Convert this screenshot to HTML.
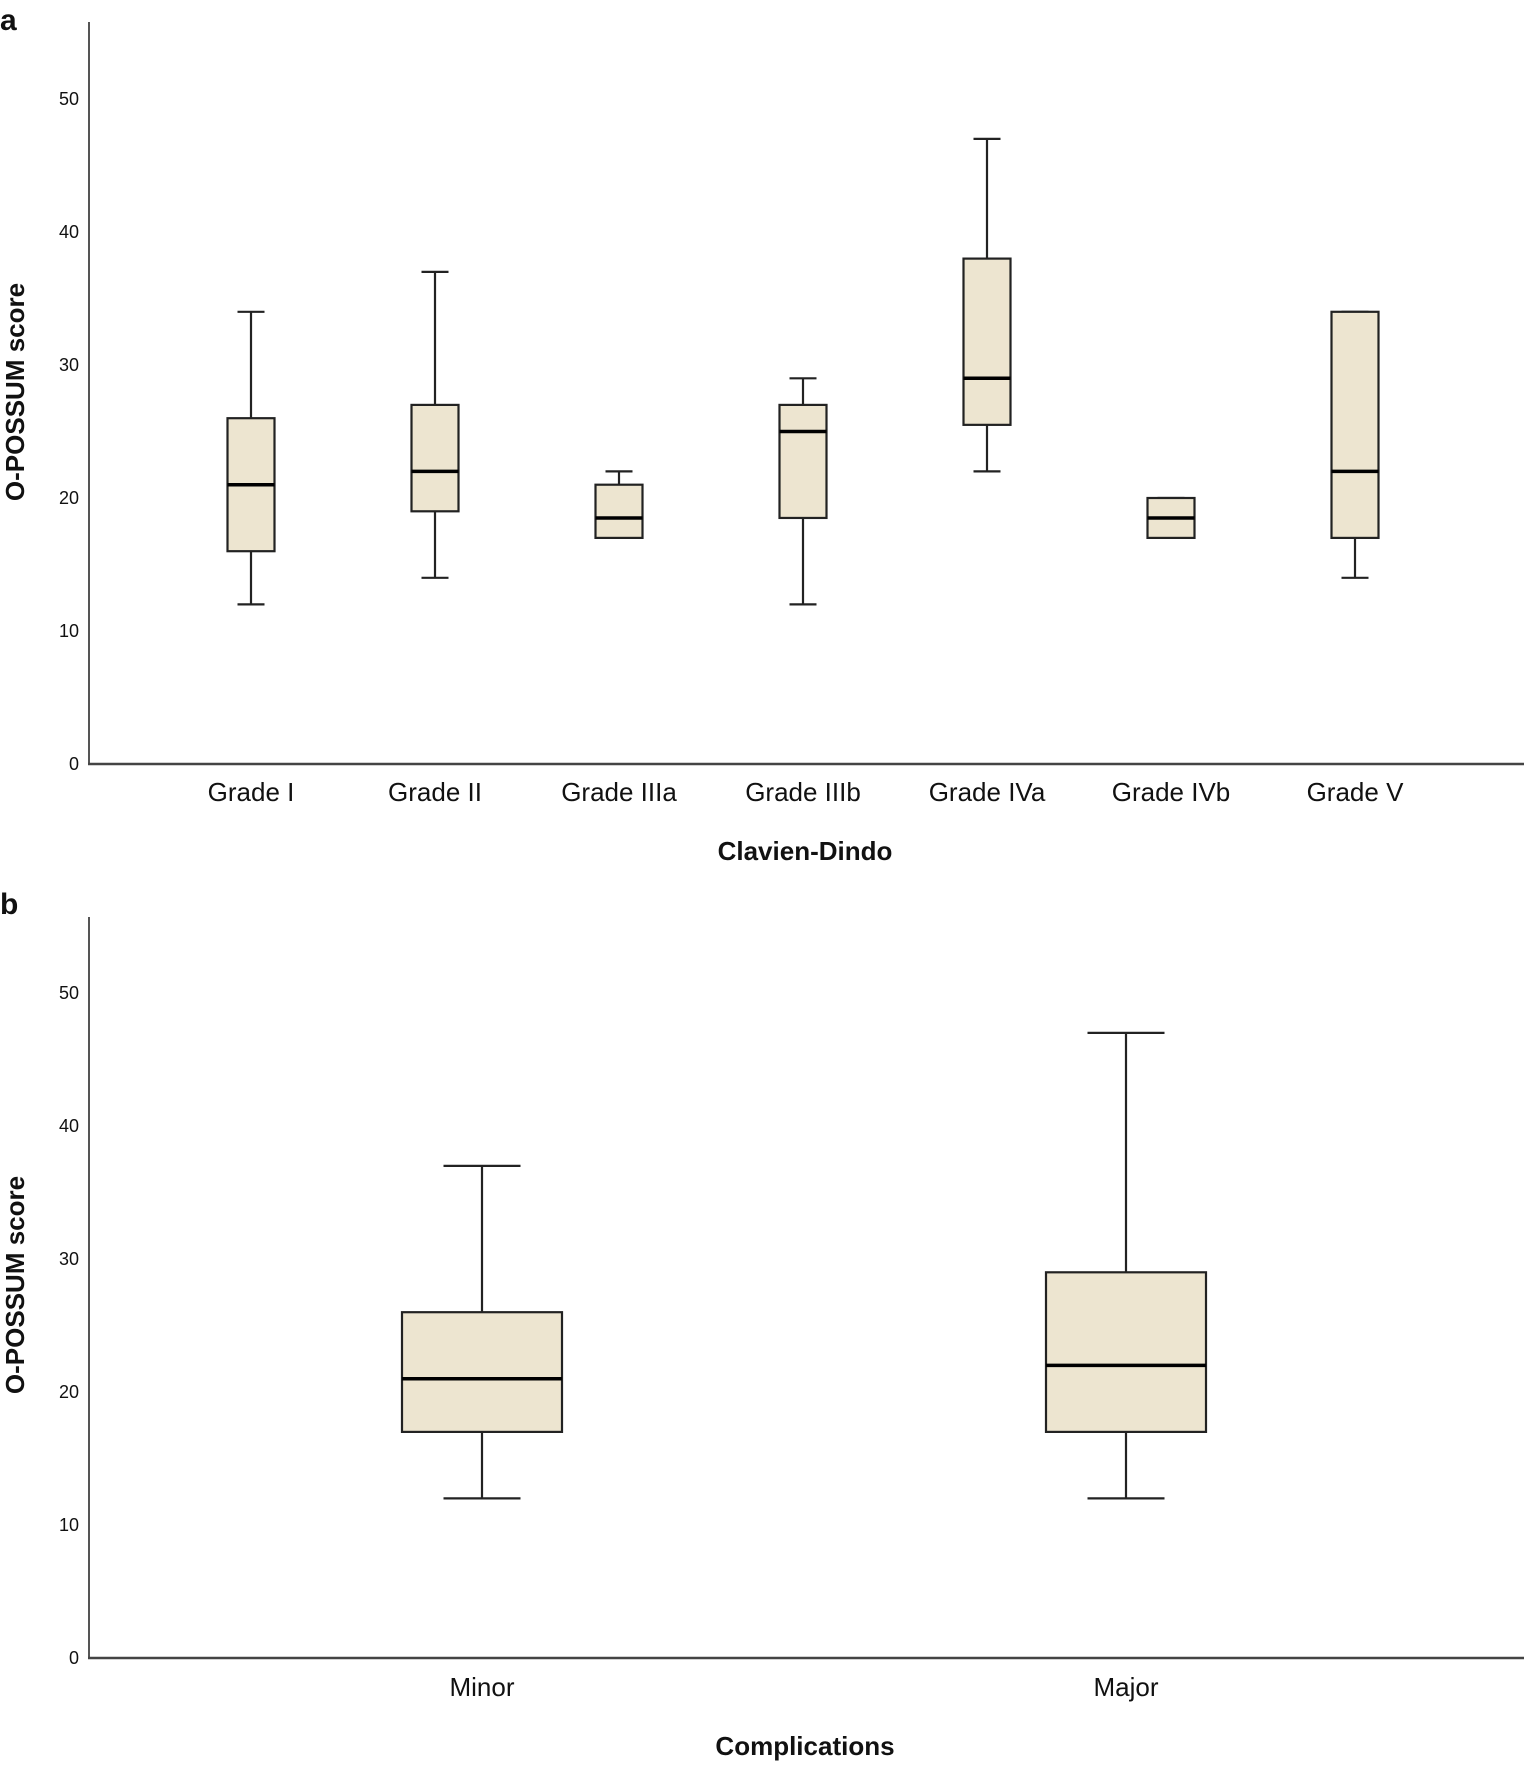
<!DOCTYPE html>
<html><head><meta charset="utf-8"><style>
html,body{margin:0;padding:0;background:#fff}
svg{display:block}
text{font-family:"Liberation Sans",Arial,sans-serif;fill:#111}
</style></head><body>
<svg id="chart" width="1524" height="1772" viewBox="0 0 1524 1772" xmlns="http://www.w3.org/2000/svg"></svg>
<script>
const catsA = ["Grade I","Grade II","Grade IIIa","Grade IIIb","Grade IVa","Grade IVb","Grade V"];
const minA = [12,14,17,12,22,17,14];
const q1A  = [16,19,17,18.5,25.5,17,17];
const medA = [21,22,18.5,25,29,18.5,22];
const q3A  = [26,27,21,27,38,20,34];
const maxA = [34,37,22,29,47,20,34];
const catsB = ["Minor","Major"];
const minB = [12,12];
const q1B  = [17,17];
const medB = [21,22];
const q3B  = [26,29];
const maxB = [37,47];
const yTicks = [0,10,20,30,40,50];

const svg = document.getElementById('chart');
const NS = 'http://www.w3.org/2000/svg';
function mk(tag, attrs, parent){ const e=document.createElementNS(NS,tag); for(const k in attrs) e.setAttribute(k,attrs[k]); (parent||svg).appendChild(e); return e; }

function panel(p){
  const g = mk('g',{});
  
  
  const y = v => p.y0 - (p.y0 - p.y50) * v / 50;
  const n = p.cats.length;
  const x = i => p.xFirst + i * p.step;
  // axes
  const ax = mk('line',{x1:89,y1:p.top,x2:89,y2:p.y0+1,stroke:'#555','stroke-width':2},g);
   
  const bx = mk('line',{x1:88,y1:p.y0,x2:1524,y2:p.y0,stroke:'#444','stroke-width':2.5},g);
   
  yTicks.forEach(t=>{
    const tx = mk('text',{x:79,y:y(t)+6,'text-anchor':'end','font-size':18},g);
    tx.textContent = t;
     
  });
  for(let i=0;i<n;i++){
    const cx = x(i), hw = p.bw/2, cw = p.cw/2;
    const bg = mk('g',{},g);
    
    
    mk('line',{x1:cx,y1:y(p.max[i]),x2:cx,y2:y(p.q3[i]),stroke:'#222','stroke-width':2.2},bg);
    mk('line',{x1:cx,y1:y(p.q1[i]),x2:cx,y2:y(p.min[i]),stroke:'#222','stroke-width':2.2},bg);
    mk('line',{x1:cx-cw,y1:y(p.max[i]),x2:cx+cw,y2:y(p.max[i]),stroke:'#222','stroke-width':2.2},bg);
    mk('line',{x1:cx-cw,y1:y(p.min[i]),x2:cx+cw,y2:y(p.min[i]),stroke:'#222','stroke-width':2.2},bg);
    mk('rect',{x:cx-hw,y:y(p.q3[i]),width:p.bw,height:y(p.q1[i])-y(p.q3[i]),fill:'#ede5d0',stroke:'#222','stroke-width':2.2},bg);
    mk('line',{x1:cx-hw,y1:y(p.med[i]),x2:cx+hw,y2:y(p.med[i]),stroke:'#000','stroke-width':3.5},bg);
    const lb = mk('text',{x:cx,y:p.labY,'text-anchor':'middle','font-size':26},g);
    lb.textContent = p.cats[i];
     
  }
  const tt = mk('text',{x:805,y:p.titleY,'text-anchor':'middle','font-size':26,'font-weight':'bold'},g);
  tt.textContent = p.xTitle;
   
  const yt = mk('text',{x:0,y:0,'text-anchor':'middle','font-size':26,'font-weight':'bold',transform:'translate(24,'+p.yTitleC+') rotate(-90)'},g);
  yt.textContent = 'O-POSSUM score';
   
  const pl = mk('text',{x:0,y:p.letterY,'font-size':30,'font-weight':'bold'},g);
  pl.textContent = p.letter;
   
}

panel({name:'panel-a',letter:'a',letterY:30,cats:catsA,min:minA,q1:q1A,med:medA,q3:q3A,max:maxA,
  y0:764,y50:99,top:22,xFirst:251,step:184,bw:47,cw:27,labY:801,titleY:860,xTitle:'Clavien-Dindo',yTitleC:392});
panel({name:'panel-b',letter:'b',letterY:914,cats:catsB,min:minB,q1:q1B,med:medB,q3:q3B,max:maxB,
  y0:1658,y50:993,top:917,xFirst:482,step:644,bw:160,cw:77,labY:1696,titleY:1755,xTitle:'Complications',yTitleC:1285});
</script>
</body></html>
